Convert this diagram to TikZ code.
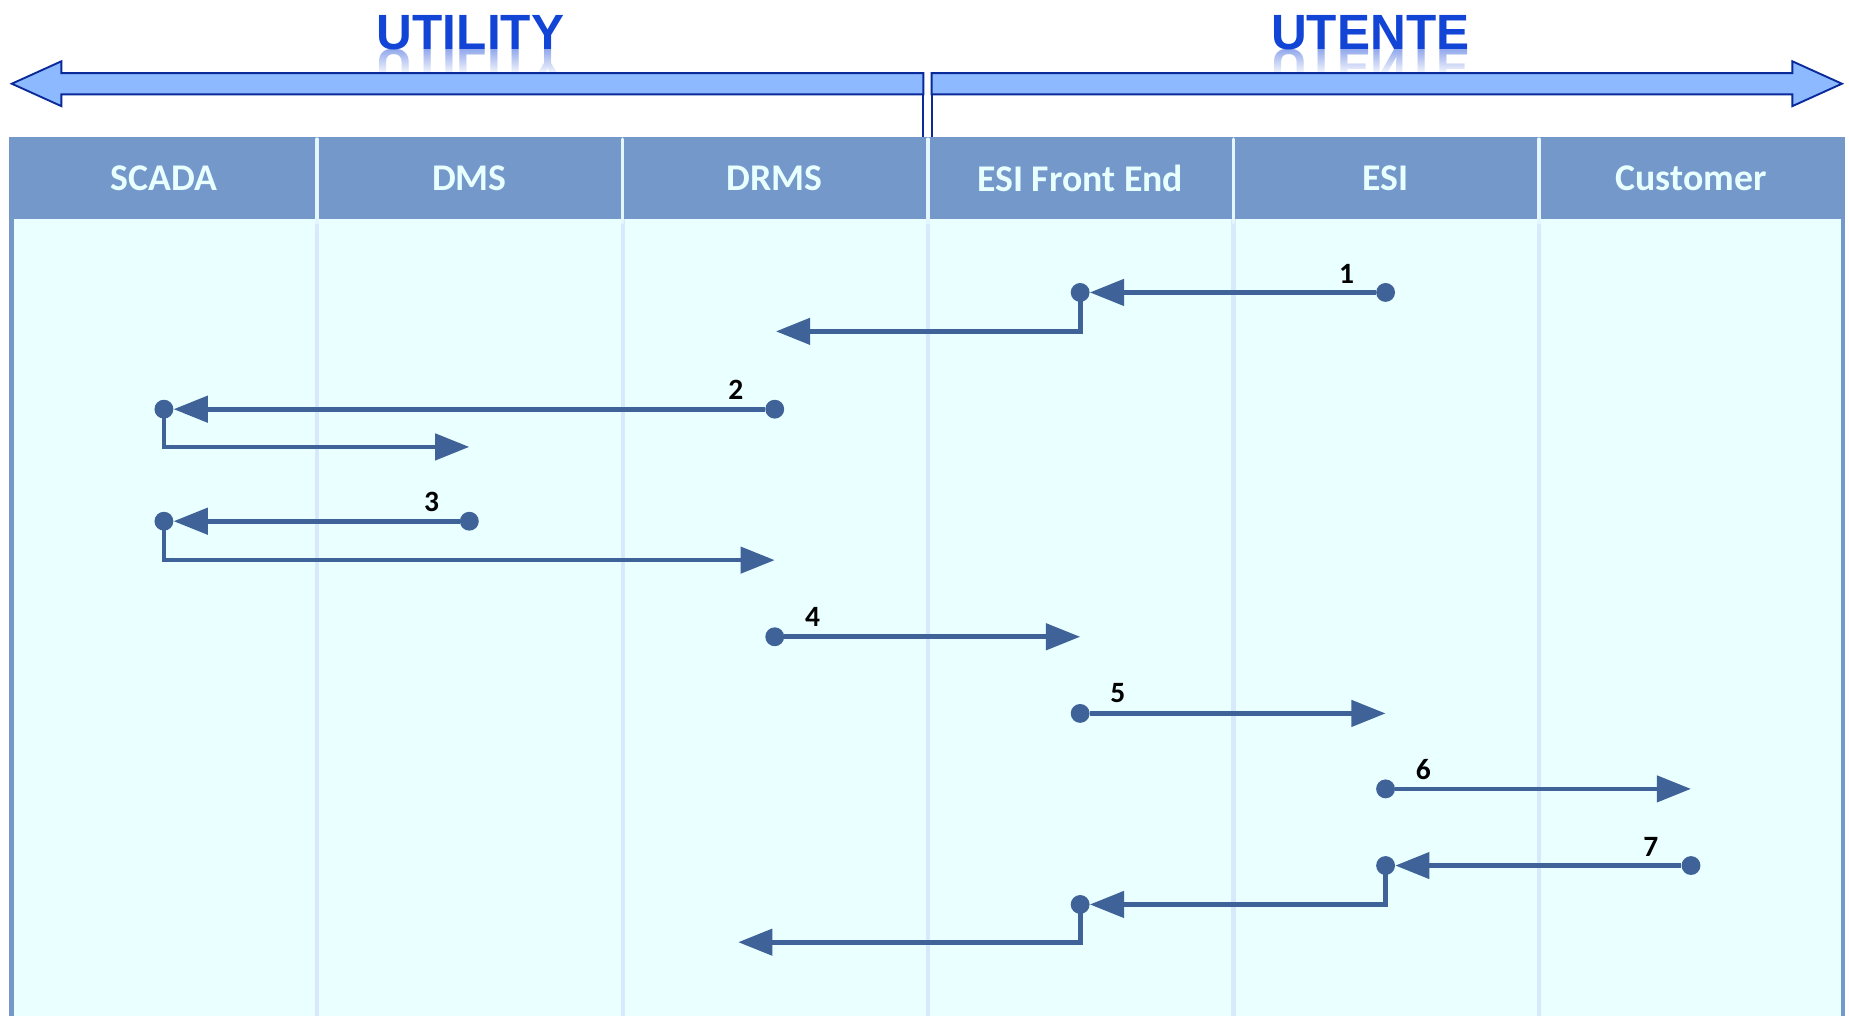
\documentclass[tikz,border=0pt]{standalone}
\usepackage{fontspec}
\setmainfont{Carlito}
\newfontfamily\titlefamily{Liberation Sans}
\usetikzlibrary{arrows.meta,fadings}
\definecolor{hdr}{HTML}{7598CB}
\definecolor{hdrtxt}{HTML}{E8FFFF}
\definecolor{bodycol}{HTML}{EAFFFF}
\definecolor{sepbody}{HTML}{D8E9FB}
\definecolor{sephdr}{HTML}{E4F6FF}
\definecolor{bigfill}{HTML}{8CB9FF}
\definecolor{bigdraw}{HTML}{0A2A9A}
\definecolor{conncol}{HTML}{3F6298}
\definecolor{titlecol}{HTML}{1244D6}
\tikzfading[name=fadeup, top color=transparent!100, bottom color=transparent!0]
\begin{document}
\begin{tikzpicture}[x=1pt,y=1pt,
 lanehead/.style={font=\fontsize{32}{34}\selectfont\bfseries, text=hdrtxt},
 numlabel/.style={font=\fontsize{25}{27}\selectfont\bfseries, text=black, inner sep=0pt},
 dotnode/.style={circle, fill=conncol, inner sep=0pt, minimum size=16pt},
 conn/.style={draw=conncol, line width=4pt},
 tipped/.style={-{Triangle[length=29pt,width=22pt]}},
 bigarrow/.style={fill=bigfill, draw=bigdraw, line width=1.6pt, line join=miter},
 titletext/.style={font=\titlefamily\fontsize{42}{44}\selectfont\bfseries, text=titlecol, inner sep=0pt}
]
\useasboundingbox (0,0) rectangle (1568,-861);
\fill[white] (0,0) rectangle (1568,-861);

% swimlane container
\fill[hdr] (8,-116) rectangle (1565,-880);
\fill[bodycol] (12,-186) rectangle (1561,-880);
\foreach \x in {269,528,787,1046,1305} {
  \draw[sepbody, line width=3.5pt] (\x,-186) -- (\x,-880);
  \draw[sephdr, line width=3pt, line cap=round] (\x,-118) -- (\x,-189);
}

% lane headers
\node[lanehead] (hSCADA) at (139,-151) {SCADA};
\node[lanehead] (hDMS) at (398,-151) {DMS};
\node[lanehead] (hDRMS) at (657,-151) {DRMS};
\node[lanehead] (hFE) at (916,-151) {ESI Front End};
\node[lanehead] (hESI) at (1175,-151) {ESI};
\node[lanehead] (hCust) at (1434,-151) {Customer};

% titles with reflection
\node[titletext, anchor=base] (tUtil) at (399,-42) {UTILITY};
\node[titletext, anchor=base] (tUten) at (1162,-42) {UTENTE};
\begin{scope}[shift={(399,-42)}, yscale=-1]
  \node[titletext, anchor=base, transform shape, text opacity=0.45] (rUtil) at (0,0) {UTILITY};
\end{scope}
\begin{scope}[shift={(1162,-42)}, yscale=-1]
  \node[titletext, anchor=base, transform shape, text opacity=0.45] (rUten) at (0,0) {UTENTE};
\end{scope}
\fill[white, path fading=fadeup] (300,-42) rectangle (500,-64);
\fill[white, path fading=fadeup] (1060,-42) rectangle (1265,-64);

% big direction arrows
\draw[bigarrow] (783,-62) -- (52,-62) -- (52,-52) -- (10,-71) -- (52,-90) -- (52,-80) -- (783,-80) -- cycle;
\draw[bigarrow] (790,-62) -- (1520,-62) -- (1520,-52) -- (1562,-71) -- (1520,-90) -- (1520,-80) -- (790,-80) -- cycle;
\draw[bigdraw, line width=1.6pt] (783,-80) -- (783,-116);
\draw[bigdraw, line width=1.6pt] (790,-80) -- (790,-116);

% step 1
\node[dotnode] (s1) at (1175,-248) {};
\node[dotnode] (m1) at (916,-248) {};
\coordinate (e1) at (658,-281);
\draw[conn,tipped] (s1) -- (m1);
\draw[conn,tipped] (m1.center) |- (e1);
\node[numlabel] (n1) at (1142,-232) {1};

% step 2
\node[dotnode] (s2) at (657,-347) {};
\node[dotnode] (m2) at (139,-347) {};
\coordinate (e2) at (398,-379);
\draw[conn,tipped] (s2) -- (m2);
\draw[conn,tipped] (m2.center) |- (e2);
\node[numlabel] (n2) at (624,-331) {2};

% step 3
\node[dotnode] (s3) at (398,-442) {};
\node[dotnode] (m3) at (139,-442) {};
\coordinate (e3) at (657,-475);
\draw[conn,tipped] (s3) -- (m3);
\draw[conn,tipped] (m3.center) |- (e3);
\node[numlabel] (n3) at (366,-426) {3};

% step 4
\node[dotnode] (s4) at (657,-540) {};
\coordinate (e4) at (916,-540);
\draw[conn,tipped] (s4) -- (e4);
\node[numlabel] (n4) at (689,-523) {4};

% step 5
\node[dotnode] (s5) at (916,-605) {};
\coordinate (e5) at (1175,-605);
\draw[conn,tipped] (s5) -- (e5);
\node[numlabel] (n5) at (948,-588) {5};

% step 6
\node[dotnode] (s6) at (1175,-669) {};
\coordinate (e6) at (1434,-669);
\draw[conn,tipped] (s6) -- (e6);
\node[numlabel] (n6) at (1207,-653) {6};

% step 7
\node[dotnode] (s7) at (1434,-734) {};
\node[dotnode] (m7) at (1175,-734) {};
\node[dotnode] (q7) at (916,-767) {};
\coordinate (e7) at (626,-799);
\draw[conn,tipped] (s7) -- (m7);
\draw[conn,tipped] (m7.center) |- (q7);
\draw[conn,tipped] (q7.center) |- (e7);
\node[numlabel] (n7) at (1400,-718) {7};
\end{tikzpicture}
\end{document}
